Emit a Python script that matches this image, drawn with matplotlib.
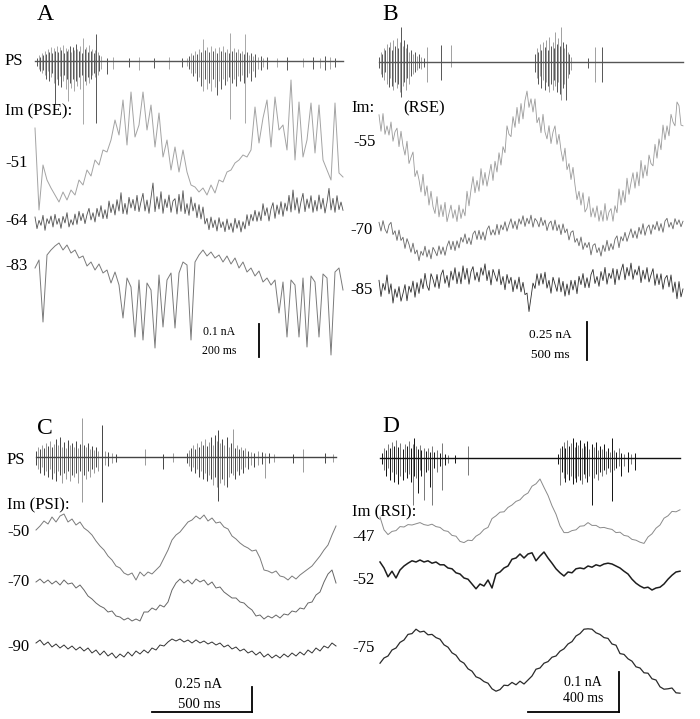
import numpy as np
import matplotlib
matplotlib.use("Agg")
import matplotlib.pyplot as plt

plt.rcParams["font.family"] = ["Liberation Serif", "DejaVu Serif"]

# =========================
# data: membrane currents (pA), one sample every *_DT ms
# population spikes: (time ms, up, down) in a.u.
# =========================

# ---- A: PSE ----
A_DT = 8
A_DT_FINE = 4
A_IM_51 = [105, -141, -6, -51, -75, -96, -117, -87, -111, -81,
           -96, -51, -66, -21, -39, 9, -6, 39, 33, 69,
           129, 84, 189, 54, 213, 78, 114, 213, 99, 174,
           48, 150, 18, 69, -21, 48, -27, 39, -27, -66,
           -72, -87, -75, -96, -66, -90, -51, -57, -27, -21,
           0, 9, 24, 18, 39, 168, 60, 135, 189, 48,
           198, 99, 114, 39, 249, 9, 183, 18, 69, 180,
           30, 174, 9, -21, -51, 180, -30, -42]
A_IM_64 = [12, -23, 2, -13, 17, -28, 7, -8, 15, -18,
           20, -10, 8, -22, 14, -6, 25, -18, 4, -12,
           21, -10, 29, 1, 23, -8, 19, 38, 3, 25,
           -3, 38, 13, 46, 7, 34, 7, 60, 25, 51,
           18, 64, 30, 85, 22, 53, 20, 71, 39, 65,
           31, 77, 28, 58, 83, 30, 63, 23, 70, 114,
           28, 73, 36, 88, 23, 66, 40, 78, 26, 60,
           67, 21, 80, 29, 91, 22, 52, 17, 72, 30,
           54, 10, 49, 6, 42, -9, 8, -26, 12, -20,
           3, -30, 10, -20, -2, -32, 6, -26, -6, -34,
           8, -22, 2, -33, -2, -24, 19, -14, 20, 0,
           32, -1, 28, 1, 52, 16, 40, 0, 36, 55,
           8, 48, 20, 58, 14, 54, 30, 77, 27, 93,
           33, 70, 23, 58, 83, 28, 66, 38, 76, 26,
           62, 30, 78, 36, 68, 24, 56, 98, 33, 68,
           26, 76, 34, 57, 32]
A_IM_83 = [-6, 18, -168, 33, 48, 60, 69, 48, 63, 39,
           48, 24, 30, 0, 12, -12, 6, -21, -12, -51,
           -18, -57, -156, -36, -63, -213, -42, -222, -51, -72,
           -246, -27, -183, -42, -21, -186, -21, 12, 3, -222,
           12, 33, 48, 30, 42, 24, 33, 12, 30, 6,
           24, -6, 12, -18, -6, -30, -15, -48, -36, -57,
           -42, -141, -48, -213, -42, -57, -213, -36, -243, -30,
           -48, -213, -24, -36, -267, -18, -6, -72]
A_PS = [(4, 3, 5), (7, 6, 8), (10, 4, 10), (13, 8, 12), (16, 6, 9), (19, 10, 14),
        (22, 7, 18), (25, 12, 10), (28, 9, 20), (31, 14, 16), (34, 8, 12), (37, 13, 22),
        (40, 10, 43), (43, 15, 18), (46, 9, 24), (49, 14, 15), (52, 11, 26), (55, 16, 20),
        (58, 8, 14), (61, 13, 28), (64, 10, 18), (66, 12, 40), (69, 15, 22), (72, 9, 27),
        (75, 14, 18), (78, 11, 30), (81, 17, 20), (84, 12, 25), (87, 10, 16), (90, 15, 28),
        (93, 8, 14), (96, 23, 63), (99, 12, 20), (102, 14, 24), (105, 9, 16), (108, 16, 22),
        (111, 10, 18), (114, 12, 14), (117, 8, 12), (120, 11, 16), (122, 27, 62), (125, 9, 14),
        (128, 6, 10), (132, 5, 8), (144, 3, 13), (156, 4, 8), (188, 3, 6), (208, 4, 9),
        (238, 3, 7), (268, 4, 8), (294, 3, 6),
        (304, 3, 5), (308, 5, 8), (312, 8, 12), (316, 6, 15), (320, 10, 12), (324, 7, 20),
        (328, 12, 16), (332, 9, 25), (336, 22, 30), (340, 11, 18), (344, 14, 28), (348, 9, 22),
        (352, 15, 30), (356, 10, 18), (360, 13, 26), (364, 8, 34), (368, 14, 20), (372, 10, 28),
        (376, 15, 18), (380, 9, 24), (384, 12, 20), (388, 8, 16), (390, 28, 58), (393, 10, 22),
        (397, 13, 18), (401, 9, 25), (405, 12, 15), (409, 8, 20), (413, 10, 14), (417, 7, 22),
        (420, 27, 62), (424, 9, 16), (428, 6, 12), (432, 8, 20), (436, 5, 10), (440, 7, 16),
        (446, 4, 8), (452, 5, 9), (456, 3, 6), (464, 4, 8), (484, 3, 6), (504, 4, 9),
        (536, 3, 6), (556, 4, 8), (570, 3, 7), (580, 5, 9), (590, 4, 8), (600, 3, 6)]

# ---- B: RSE ----
B_DT = 10
B_IM_55 = [177, 70, 185, 50, 105, 45, 130, 5, 66, 90,
           -30, 70, -25, -85, 5, -140, -100, -65, -225, -185,
           -245, -325, -210, -350, -285, -410, -320, -420, -465, -355,
           -487, -408, -485, -392, -518, -465, -410, -496, -440, -517,
           -410, -497, -435, -480, -320, -415, -310, -225, -330, -250,
           -320, -173, -281, -198, -287, -215, -145, -250, -125, -195,
           -70, -150, -30, -70, 105, 50, 35, 165, 95, 225,
           120, 250, 150, 270, 331, 225, 281, 195, 280, 125,
           160, 60, 180, 65, 20, 106, -10, 65, 105, -15,
           50, -55, -125, -40, -180, -140, -244, -165, -280, -375,
           -320, -410, -330, -455, -430, -355, -487, -428, -490, -415,
           -515, -445, -515, -400, -510, -455, -433, -515, -414, -460,
           -305, -410, -315, -392, -235, -340, -265, -200, -300, -195,
           -285, -120, -235, -150, -220, -85, -140, -155, -15, -105,
           20, -50, 110, 15, 105, 40, 180, 130, 105, 260,
           236, 110, 105]
B_IM_70 = [50, -7, 61, 5, -21, 33, 50, -30, -5, -68,
           0, -68, -47, -120, -56, -93, -145, -85, -155, -130,
           -200, -138, -165, -105, -176, -128, -188, -113, -138, -168,
           -103, -158, -110, -165, -105, -70, -128, -73, -134, -70,
           -117, -48, -79, -25, -90, -50, -95, -25, -6, -62,
           -2, -62, -12, -67, 3, 27, -33, 2, -33, 37,
           -30, 33, 1, 54, -8, 35, 73, 10, 58, 3,
           73, 38, 93, 23, 77, 40, 97, 18, 75, 57,
           20, 82, 29, 65, -4, 42, 58, -1, 65, -5,
           35, -30, 40, -18, 7, -65, -15, -5, -80, -55,
           -103, -45, -127, -83, -114, -80, -162, -100, -89, -147,
           -115, -170, -98, -140, -67, -135, -88, -127, -60, -38,
           -115, -43, -71, -15, -74, -33, 8, -51, -5, -55,
           18, -28, 41, -35, 14, 33, -28, 35, 3, 56,
           -6, 42, -15, 58, 76, 18, 50, 7, 74, 35,
           66, 21, 57]
B_IM_85 = [63, -42, 43, -2, 98, -25, 40, -85, 7, -48,
           22, -73, -23, 35, -70, 25, -15, 58, -47, 48,
           -22, 73, 8, 108, 28, -3, 106, 70, 18, 101,
           10, 98, 131, 43, 95, 17, 123, 64, 145, 41,
           118, 40, 157, 69, 141, 38, 120, 152, 64, 116,
           53, 145, 96, 170, 61, 127, 33, 134, 95, 56,
           135, 34, 88, 2, 101, 42, 83, -11, 65, 6,
           84, -12, 50, -30, -20, -140, -50, 45, 10, 105,
           30, 107, 39, 116, 12, 63, -21, 83, 37, -9,
           80, -12, 56, -40, 39, -32, 63, 0, 63, -24,
           89, 35, 107, 15, 80, 15, 100, 134, 42, 88,
           24, 120, 61, 147, 38, 109, 75, 140, 35, 135,
           65, 125, 169, 67, 147, 91, 175, 69, 133, 97,
           156, 48, 129, 70, 146, 52, 98, 139, 30, 105,
           35, 105, 5, 75, 95, 20, 98, -15, 52, -57,
           55, -45, 7]
B_PS = [(0, 5, 6), (8, 10, 12), (16, 8, 15), (24, 14, 18), (32, 12, 10), (40, 18, 22),
        (48, 15, 25), (56, 20, 16), (64, 12, 24), (72, 22, 28), (80, 16, 20), (88, 24, 26),
        (96, 14, 22), (104, 20, 30), (110, 35, 35), (118, 16, 24), (126, 22, 20), (134, 14, 28),
        (142, 18, 16), (150, 10, 22), (160, 12, 14), (170, 8, 12), (180, 10, 10), (190, 6, 8),
        (200, 8, 6), (212, 5, 7), (225, 4, 5), (240, 15, 20), (310, 17, 18), (360, 17, 5),
        (780, 8, 10), (788, 14, 16), (796, 10, 22), (804, 18, 14), (812, 12, 26), (820, 20, 18),
        (828, 15, 28), (836, 22, 20), (844, 12, 24), (852, 25, 30), (860, 16, 22), (868, 20, 28),
        (876, 14, 18), (880, 30, 24), (888, 18, 30), (896, 24, 20), (904, 16, 32), (910, 35, 38),
        (918, 20, 26), (926, 14, 22), (935, 18, 38), (943, 10, 16), (950, 8, 12), (958, 5, 8),
        (1045, 4, 6), (1080, 15, 20), (1115, 15, 20)]

# ---- C: PSI ----
C_DT = 20
C_IM_50 = [20, 60, 110, 80, 150, 100, 160, 180, 100, 130,
           70, 100, 40, 10, -30, -90, -140, -180, -240, -280,
           -340, -360, -410, -430, -410, -480, -400, -440, -400, -420,
           -380, -340, -260, -180, -80, -30, 0, 50, 100, 120,
           160, 130, 170, 110, 140, 90, 100, 50, 30, -40,
           -70, -110, -140, -160, -190, -180, -260, -380, -390, -410,
           -390, -440, -450, -480, -440, -470, -430, -400, -370, -340,
           -290, -240, -180, -130, -30, 60]
C_IM_70 = [0, 30, -10, 20, -20, 10, -30, 20, -20, -10,
           -60, -30, -80, -140, -170, -210, -240, -260, -300, -290,
           -340, -350, -380, -360, -390, -370, -390, -300, -300, -260,
           -280, -230, -250, -200, -80, -10, 30, -10, 20, -20,
           30, 0, 20, -30, 0, -60, -50, -100, -130, -160,
           -160, -200, -210, -250, -280, -340, -330, -370, -340, -360,
           -330, -360, -320, -330, -290, -300, -260, -270, -210, -200,
           -130, -100, 0, 80, 120, -10]
C_IM_90 = [40, 70, 20, 50, 0, 30, -10, 20, -20, 10,
           -30, 0, -40, -10, -60, -30, -80, -40, -90, -60,
           -110, -70, -100, -50, -90, -40, -70, -30, -60, -10,
           -30, 20, 10, 50, 80, 60, 80, 50, 70, 40,
           70, 40, 60, 30, 50, 20, 40, 0, 20, -20,
           0, -40, -20, -60, -40, -80, -50, -100, -70, -110,
           -80, -110, -70, -100, -60, -90, -50, -80, -30, -60,
           -10, -40, 10, -10, 40, 10]
C_PS = [(0, 6, 8), (10, 10, 12), (20, 8, 16), (30, 12, 10), (40, 9, 18), (50, 14, 14),
        (60, 11, 20), (70, 16, 12), (80, 10, 22), (90, 13, 16), (100, 18, 24), (110, 12, 14),
        (120, 20, 18), (130, 10, 26), (140, 15, 16), (150, 9, 22), (160, 17, 14), (170, 12, 24),
        (180, 14, 18), (190, 10, 20), (200, 16, 16), (210, 9, 26), (220, 13, 14), (230, 39, 45),
        (240, 12, 18), (250, 10, 22), (260, 14, 14), (270, 8, 20), (280, 11, 12), (290, 7, 16),
        (300, 10, 10), (310, 6, 14), (330, 32, 45), (345, 6, 8), (360, 5, 9), (380, 4, 6),
        (400, 3, 5), (545, 8, 8), (635, 3, 12), (685, 4, 5),
        (755, 4, 6), (765, 7, 9), (775, 9, 14), (785, 12, 10), (795, 8, 16), (805, 14, 12),
        (815, 10, 20), (825, 16, 14), (835, 12, 22), (845, 18, 16), (855, 11, 24), (865, 15, 18),
        (875, 20, 22), (885, 12, 28), (895, 22, 20), (905, 16, 30), (910, 27, 44), (920, 14, 26),
        (930, 18, 22), (940, 12, 28), (955, 20, 30), (965, 10, 20), (975, 14, 16), (985, 28, 18),
        (995, 9, 22), (1005, 12, 14), (1015, 8, 18), (1025, 10, 12), (1035, 7, 16), (1045, 9, 10),
        (1060, 6, 12), (1075, 5, 8), (1090, 4, 10), (1110, 6, 8), (1130, 5, 7), (1145, 4, 21),
        (1165, 4, 6), (1190, 3, 5), (1285, 3, 6), (1335, 8, 15), (1445, 4, 6), (1485, 3, 5)]

# ---- D: RSI ----
D_DT = 17.6
D_IM_47 = [50, 18, 6, 14, 16, 26, 25, 31, 30, 33,
           36, 31, 29, 32, 26, 24, 16, 14, 4, 2,
           -11, -14, -8, -9, 2, 8, 19, 24, 46, 53,
           62, 63, 74, 80, 89, 93, 104, 110, 127, 133,
           145, 124, 104, 78, 57, 28, 11, 11, 16, 18,
           27, 28, 36, 29, 29, 23, 24, 21, 19, 11,
           12, 4, 2, -6, -8, -13, -16, 0, 8, 22,
           30, 47, 53, 64, 63, 68]
D_IM_52 = [45, 30, 8, 22, 5, 25, 35, 42, 48, 45,
           50, 45, 48, 42, 45, 38, 38, 30, 28, 18,
           15, 5, 2, -10, -22, -10, -15, 0, -20, 15,
           20, 30, 35, 52, 55, 65, 55, 65, 68, 48,
           60, 70, 55, 42, 28, 18, 10, 20, 18, 28,
           30, 28, 35, 32, 38, 35, 40, 42, 40, 35,
           30, 22, 15, 2, -8, -15, -20, -18, -25, -20,
           -18, -10, 2, 12, 20, 22]
D_IM_75 = [-38, -25, -20, -5, 0, 14, 20, 34, 36, 47,
           40, 42, 33, 34, 26, 22, 8, 2, -12, -18,
           -32, -38, -52, -58, -72, -76, -84, -88, -102, -108,
           -104, -93, -94, -86, -92, -83, -90, -80, -70, -53,
           -50, -38, -34, -23, -20, -8, -2, 10, 16, 30,
           36, 47, 48, 47, 38, 34, 26, 24, 10, 7,
           -14, -16, -27, -33, -47, -50, -62, -63, -77, -80,
           -97, -103, -102, -100, -112, -113]
D_PS = [(9, 5, 6), (18, 10, 12), (27, 8, 18), (36, 14, 10), (45, 10, 22), (54, 16, 14),
        (63, 12, 24), (72, 18, 16), (81, 11, 26), (90, 15, 18), (99, 9, 22), (108, 14, 14),
        (117, 12, 20), (126, 17, 16), (135, 10, 24), (144, 14, 47), (150, 20, 18), (158, 12, 20),
        (166, 9, 35), (174, 13, 12), (182, 8, 18), (194, 10, 42), (203, 7, 14), (212, 10, 12),
        (220, 6, 29), (229, 12, 47), (238, 6, 10), (250, 8, 14), (262, 5, 8), (273, 15, 32),
        (285, 4, 7), (300, 3, 5), (330, 3, 5), (387, 12, 17),
        (783, 4, 6), (792, 10, 27), (800, 12, 14), (808, 16, 20), (816, 10, 24), (824, 18, 16),
        (832, 12, 22), (840, 15, 18), (848, 20, 26), (856, 11, 20), (864, 16, 24), (872, 13, 18),
        (880, 18, 22), (888, 10, 26), (896, 15, 16), (904, 12, 20), (912, 17, 24), (920, 9, 18),
        (933, 14, 47), (942, 11, 20), (950, 16, 16), (958, 8, 22), (966, 12, 14), (975, 9, 18),
        (984, 14, 12), (993, 7, 16), (1002, 10, 10), (1010, 6, 14), (1021, 20, 43), (1030, 8, 12),
        (1040, 6, 10), (1050, 10, 8), (1062, 5, 18), (1075, 4, 8), (1090, 6, 14), (1105, 4, 6),
        (1122, 5, 12)]


# =========================
# layout helpers (figure in pixels)
# =========================
W, H = 700, 719
fig = plt.figure(figsize=(W / 100, H / 100), dpi=100)


def panel_axes(left, top, w, h, t0_px, px_per_ms, pa_per_px):
    ax = fig.add_axes([left / W, 1 - (top + h) / H, w / W, h / H])
    ax.set_xlim((left - t0_px) / px_per_ms, (left + w - t0_px) / px_per_ms)
    ax.set_ylim(-(top + h) * pa_per_px, -top * pa_per_px)
    ax.axis("off")
    ax.pa = pa_per_px
    return ax


def draw_trace(ax, dt, values, row, color, lw=0.7):
    v = np.asarray(values, dtype=float)
    t = np.arange(len(v)) * dt
    ax.plot(t, -row * ax.pa + v, color=color, lw=lw)


def draw_ps(ax, spikes, t_end, row, dark, light, lw=0.7):
    s = np.asarray(spikes, dtype=float)
    base = -row * ax.pa
    cols = [dark if i % 2 == 0 else light for i in range(len(s))]
    ax.vlines(s[:, 0], base - s[:, 2] * ax.pa, base + s[:, 1] * ax.pa,
              colors=cols, lw=lw)
    ax.plot([0, t_end], [base, base], color=dark, lw=1.0)


def scale_bar(ax, t_px_left, t_px_right, px_per_ms, t0_px, row, pa, hbar=True):
    tx = (t_px_right - t0_px) / px_per_ms
    base = -row * ax.pa
    ax.plot([tx, tx], [base, base + pa], color="black", lw=1.3)
    if hbar:
        tl = (t_px_left - t0_px) / px_per_ms
        ax.plot([tl, tx], [base, base], color="black", lw=1.3)


def label(x, y, s, size=12, ha="left"):
    fig.text(x / W, 1 - y / H, s, fontsize=size, ha=ha, va="center")


# ---------- A ----------
axA = panel_axes(0, 0, 350, 370, 35, 0.5, 3)
draw_ps(axA, A_PS, 616, 61, "#555555", "#a8a8a8")
draw_trace(axA, A_DT, A_IM_51, 163, "#a3a3a3")
draw_trace(axA, A_DT_FINE, A_IM_64, 221, "#505050", lw=0.6)
draw_trace(axA, A_DT, A_IM_83, 266, "#7a7a7a")
scale_bar(axA, 259, 259, 0.5, 35, 357, 100, hbar=False)
label(37, 14, "A", 17)
label(5, 61, "PS")
label(5, 111, "Im (PSE):")
label(5, 163, "-51")
label(5, 221, "-64")
label(5, 266, "-83")
label(219, 332, "0.1 nA", 8.5, "center")
label(219, 351, "200 ms", 8.5, "center")

# ---------- B ----------
axB = panel_axes(350, 0, 350, 370, 379, 0.2, 6.5)
draw_ps(axB, B_PS, 1520, 62, "#555555", "#a0a0a0")
draw_trace(axB, B_DT, B_IM_55, 142, "#9a9a9a", lw=0.6)
draw_trace(axB, B_DT, B_IM_70, 230, "#666666", lw=0.6)
draw_trace(axB, B_DT, B_IM_85, 290, "#2e2e2e", lw=0.6)
scale_bar(axB, 587, 587, 0.2, 379, 360, 250, hbar=False)
label(382, 14, "B", 17)
label(351, 108, "Im:")
label(403, 108, "(RSE)")
label(353, 142, "-55")
label(350, 230, "-70")
label(350, 290, "-85")
label(550, 335, "0.25 nA", 9.5, "center")
label(550, 355, "500 ms", 9.5, "center")

# ---------- C ----------
axC = panel_axes(0, 370, 350, 349, 36, 0.2, 10)
draw_ps(axC, C_PS, 1500, 457, "#444444", "#9a9a9a")
draw_trace(axC, C_DT, C_IM_50, 532, "#7a7a7a")
draw_trace(axC, C_DT, C_IM_70, 582, "#666666")
draw_trace(axC, C_DT, C_IM_90, 647, "#333333")
scale_bar(axC, 152, 252, 0.2, 36, 712, 250)
label(37, 428, "C", 17)
label(7, 460, "PS")
label(7, 505, "Im (PSI):")
label(7, 532, "-50")
label(7, 582, "-70")
label(7, 647, "-90")
label(199, 685, "0.25 nA", 10.5, "center")
label(199, 705, "500 ms", 10.5, "center")

# ---------- D ----------
axD = panel_axes(350, 370, 350, 349, 380, 1 / 4.4, 2.5)
draw_ps(axD, D_PS, 1320, 458, "#111111", "#777777")
draw_trace(axD, D_DT, D_IM_47, 537, "#8a8a8a")
draw_trace(axD, D_DT, D_IM_52, 580, "#1e1e1e", lw=1.1)
draw_trace(axD, D_DT, D_IM_75, 648, "#2a2a2a", lw=0.9)
scale_bar(axD, 528, 619, 1 / 4.4, 380, 712, 100)
label(382, 427, "D", 17)
label(352, 512, "Im (RSI):")
label(352, 537, "-47")
label(352, 580, "-52")
label(352, 648, "-75")
label(583, 682, "0.1 nA", 10, "center")
label(583, 698, "400 ms", 10, "center")

fig.savefig("out.png", dpi=100)
